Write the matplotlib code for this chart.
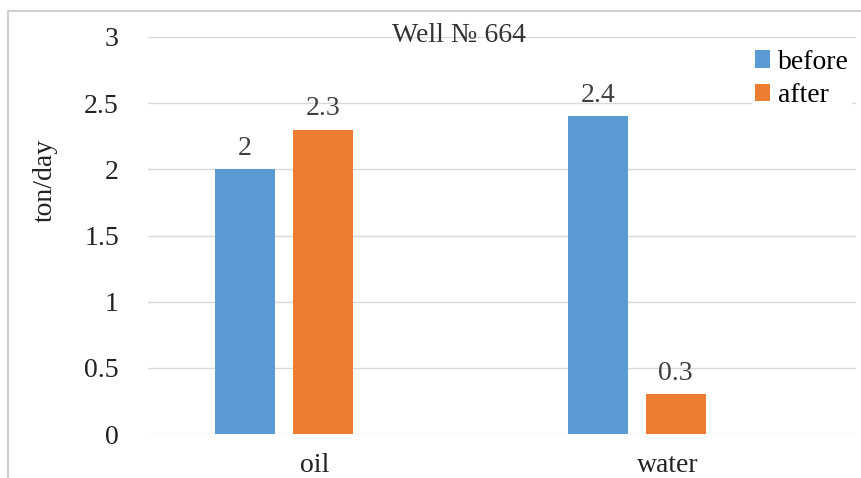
import matplotlib.pyplot as plt
from matplotlib.patches import Rectangle

categories = ['oil', 'water']
before = [2.0, 2.4]
after = [2.3, 0.3]
series_names = ['before', 'after']
yticks = [0, 0.5, 1, 1.5, 2, 2.5, 3]

blue = '#5B9BD5'
orange = '#ED7D31'
text_col = '#404040'
fs = 20

plt.rcParams['font.family'] = ['Liberation Serif', 'DejaVu Serif']

fig = plt.figure(figsize=(8.61, 4.78), dpi=100)
ax = fig.add_axes([0.172, 0.092, 0.822, 0.8306])

# outer chart frame
fig.patches.append(Rectangle((8 / 861, -0.1), 1.2, 1 - 11 / 478 + 0.1,
                             transform=fig.transFigure, fill=False,
                             edgecolor='#D0D0D0', linewidth=1.5))

x = list(range(len(categories)))
w = 0.17
xb = [i - 0.198 for i in x]
xa = [i + 0.022 for i in x]
b1 = ax.bar(xb, before, width=w, color=blue, label=series_names[0], zorder=3)
b2 = ax.bar(xa, after, width=w, color=orange, label=series_names[1], zorder=3)

for bars, vals in ((b1, before), (b2, after)):
    for r, v in zip(bars, vals):
        ax.annotate('%g' % v, (r.get_x() + r.get_width() / 2, v),
                    xytext=(0, 6), textcoords='offset points',
                    ha='center', va='bottom', fontsize=fs, color=text_col)

ax.set_xlim(-0.473, 1.533)
ax.set_ylim(0, 3)
ax.set_yticks(yticks)
ax.set_yticklabels(['%g' % t for t in yticks])
ax.set_xticks(x)
ax.set_xticklabels(categories)
ax.tick_params(axis='y', length=0, pad=21, labelsize=fs, labelcolor='#222222')
ax.tick_params(axis='x', length=0, pad=14, labelsize=fs, labelcolor='#222222')
ax.grid(axis='y', color='#D9D9D9', linewidth=1, zorder=0)
for s in ax.spines.values():
    s.set_visible(False)

fig.text(45 / 861, 1 - 180 / 478, 'ton/day', rotation=90, ha='center',
         va='center', fontsize=fs, color='#222222')
fig.text(459 / 861, 1 - 35 / 478, 'Well № 664', ha='center', va='center',
         fontsize=fs, color='#333333')

leg = ax.legend(loc='upper left', bbox_to_anchor=(752 / 861, 1 - 47 / 478),
                bbox_transform=fig.transFigure, frameon=True, fontsize=fs,
                handlelength=0.55, handleheight=0.6, handletextpad=0.3,
                labelspacing=0.3, borderpad=0.1, borderaxespad=0)
leg.get_frame().set_edgecolor('none')
leg.get_frame().set_facecolor('white')
leg.get_frame().set_alpha(1)

fig.savefig('out.png', dpi=100)
